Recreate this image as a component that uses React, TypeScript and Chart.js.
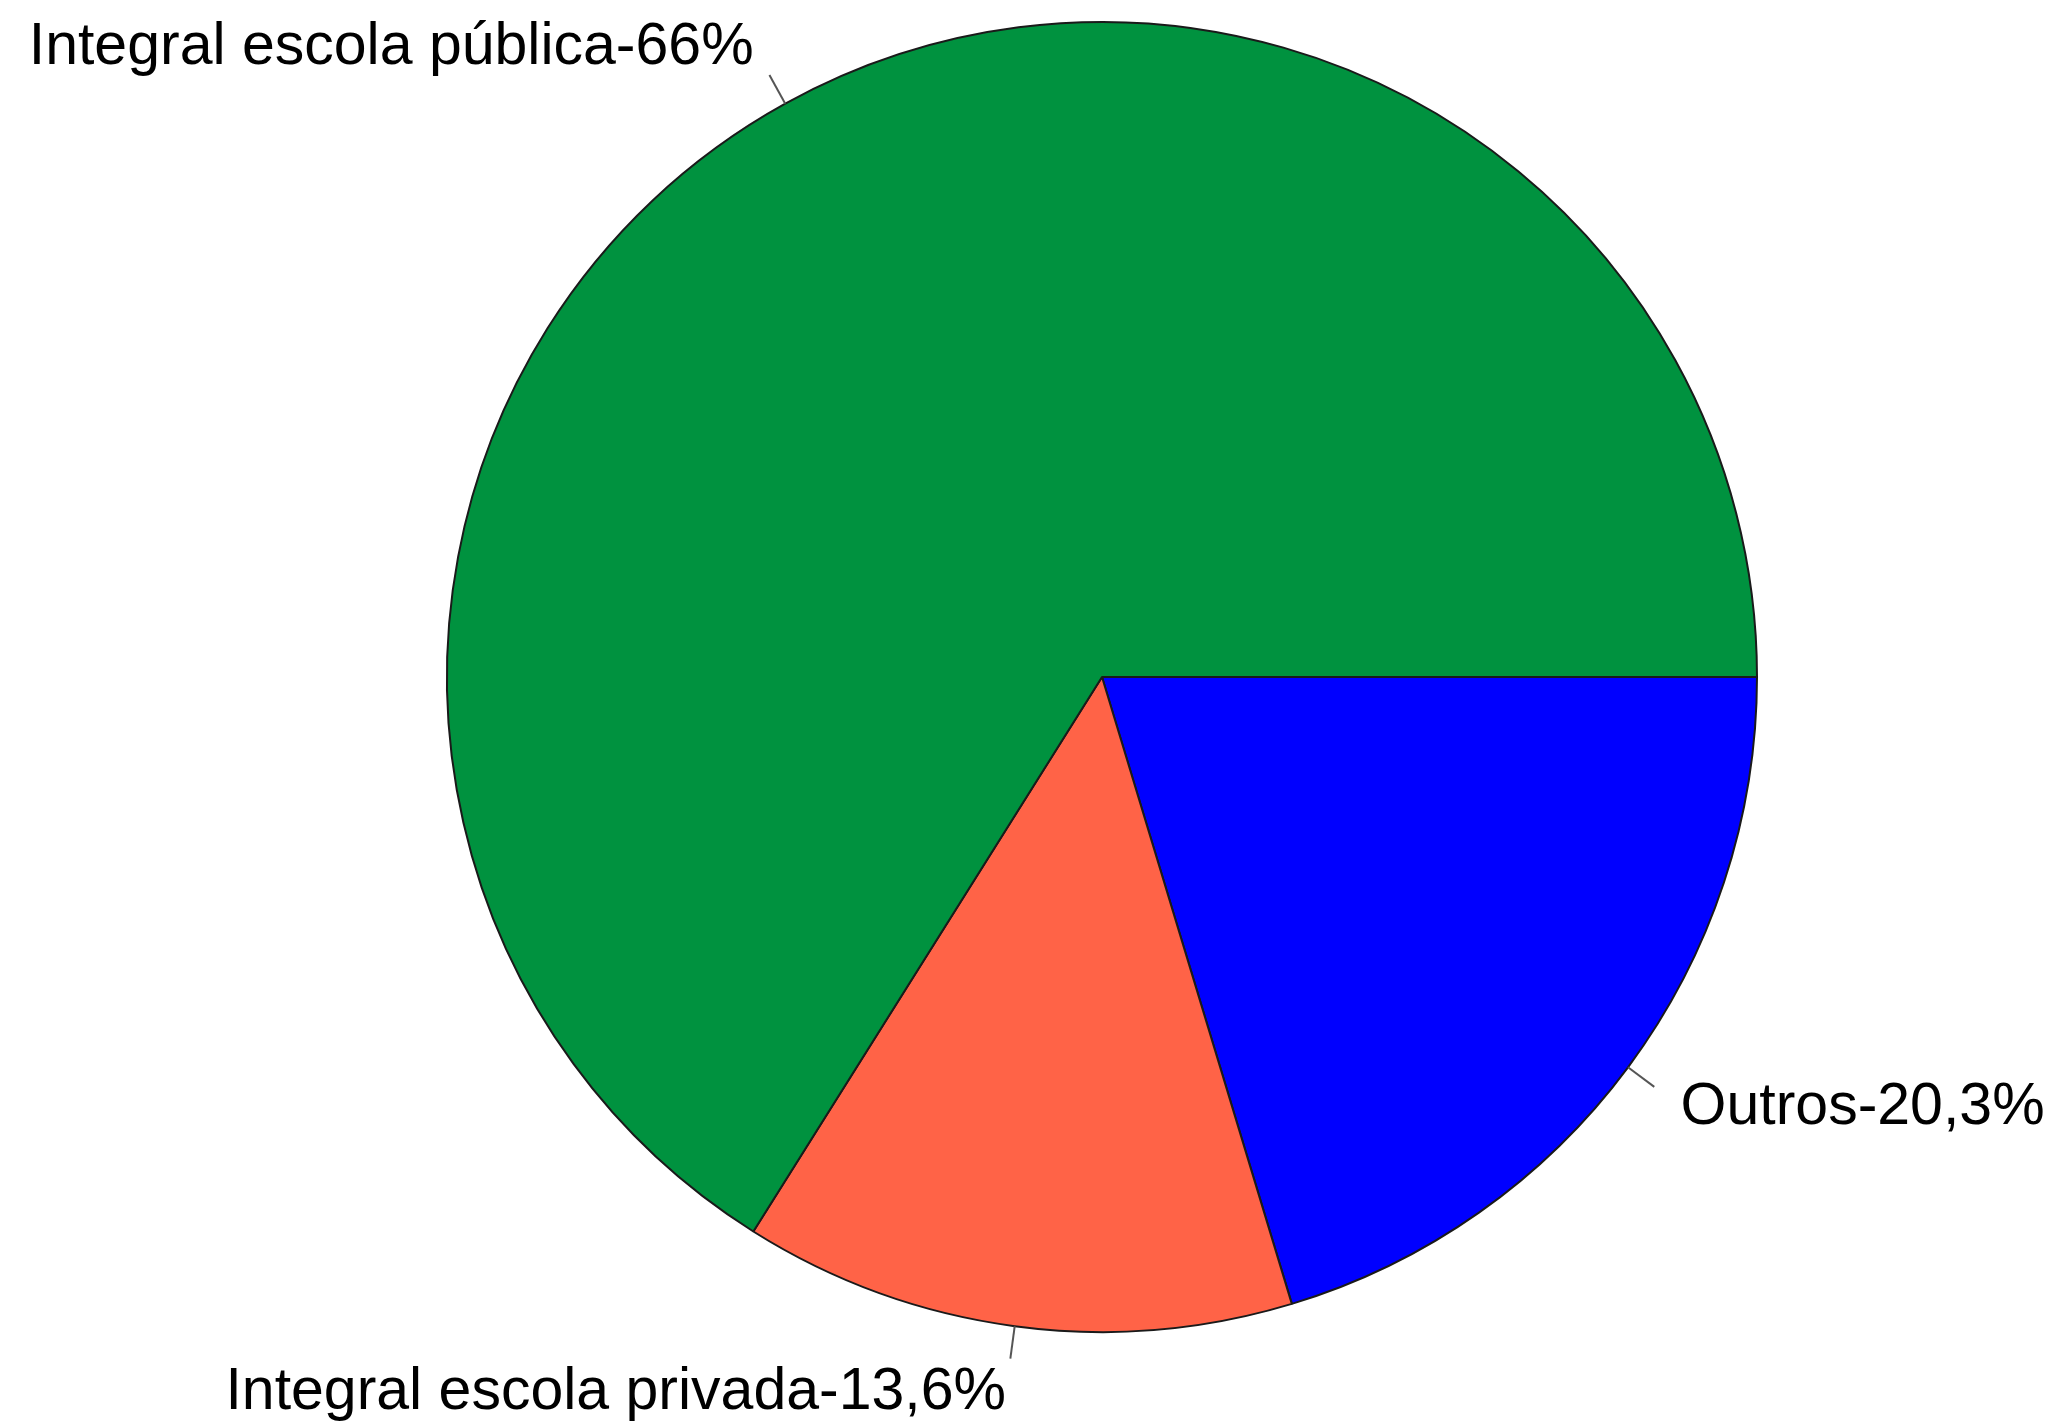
import React, { useEffect, useRef } from "react";
import { Chart, registerables } from "chart.js";

Chart.register(...registerables);

// Order as drawn clockwise from 3 o'clock (mirrors R's counter-clockwise pie)
const categories = ["Outros", "Integral escola privada", "Integral escola pública"];
const shares = [20.3, 13.6, 66];
const sliceColors = ["#0000FF", "#FF6347", "#00923F"];

const fmt = (v: number) => String(v).replace(".", ",");

const labelPlugin = {
  id: "pieLabels",
  afterDraw(chart: any) {
    const ctx = chart.ctx;
    const meta = chart.getDatasetMeta(0);
    ctx.save();
    ctx.font = "59px 'Liberation Sans', Arial, sans-serif";
    ctx.fillStyle = "#000";
    meta.data.forEach((arc: any, i: number) => {
      const { x, y, startAngle, endAngle, outerRadius } = arc.getProps(
        ["x", "y", "startAngle", "endAngle", "outerRadius"],
        true
      );
      const a = (startAngle + endAngle) / 2;
      const c = Math.cos(a);
      const s = Math.sin(a);
      ctx.strokeStyle = "#555";
      ctx.lineWidth = 2;
      ctx.beginPath();
      ctx.moveTo(x + outerRadius * c, y + outerRadius * s);
      ctx.lineTo(x + outerRadius * 1.05 * c, y + outerRadius * 1.05 * s);
      ctx.stroke();
      const lx = x + outerRadius * 1.1 * c;
      const ly = y + outerRadius * 1.1 * s;
      ctx.textAlign = c > 0 ? "left" : "right";
      ctx.textBaseline = "alphabetic";
      ctx.fillText(`${categories[i]}-${fmt(shares[i])}%`, lx, ly + 18);
    });
    ctx.restore();
  },
};

export default function App() {
  const ref = useRef<HTMLCanvasElement>(null);
  useEffect(() => {
    if (!ref.current) return;
    const chart = new Chart(ref.current, {
      type: "pie",
      data: {
        labels: categories,
        datasets: [
          {
            data: shares,
            backgroundColor: sliceColors,
            borderColor: "#1a1a1a",
            borderWidth: 2,
            radius: 655,
          } as any,
        ],
      },
      options: {
        animation: false,
        responsive: false,
        rotation: 90,
        layout: { padding: { left: 400, right: 259, top: 10, bottom: 78 } },
        plugins: {
          legend: { display: false },
          tooltip: { enabled: false },
        },
      },
      plugins: [labelPlugin],
    });
    return () => chart.destroy();
  }, []);
  return (
    <div style={{ position: "fixed", left: 0, top: 0, width: 2063, height: 1422, background: "#fff" }}>
      <canvas ref={ref} width={2063} height={1422} style={{ width: 2063, height: 1422, display: "block" }} />
    </div>
  );
}
